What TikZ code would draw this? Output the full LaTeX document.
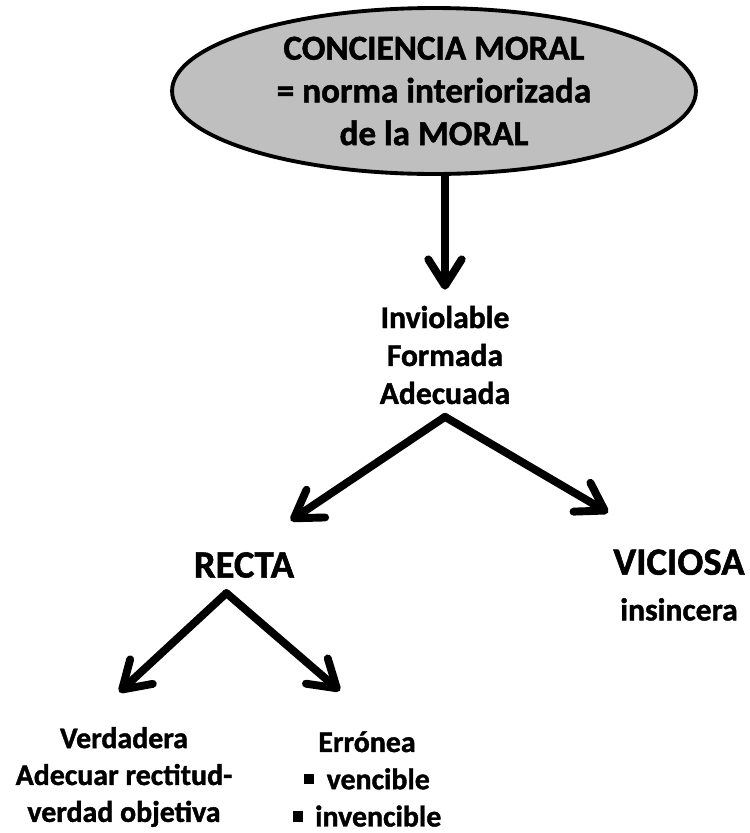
\documentclass[tikz,border=0pt]{standalone}
\usepackage{fontspec}
\setmainfont{Carlito}[BoldFeatures={FakeBold=1.3}]
\usepackage{tikz}
\usetikzlibrary{arrows.meta, shapes.geometric}

\newcommand{\sqbullet}{\raisebox{2.8pt}{\rule{5.8pt}{5.8pt}}\hspace{7pt}}

\begin{document}
\begin{tikzpicture}[x=0.02cm, y=-0.02cm,
    txt/.style={inner sep=0pt, align=center, font=\bfseries},
    arr/.style={line width=4.5pt, line cap=round, -{Straight Barb[length=15pt, width=19pt, round]}}]
\useasboundingbox (0,0) rectangle (750,833);

% Main concept
\node[txt, draw=black, line width=2.2pt, fill=black!25, ellipse, minimum width=10.48cm, minimum height=3.32cm,
      font=\bfseries\fontsize{20}{24.3}\selectfont] (title) at (434,91)
    {CONCIENCIA MORAL\\= norma interiorizada\\de la MORAL};

% Properties
\node[txt, font=\bfseries\fontsize{18}{21.6}\selectfont] (props) at (445,355)
    {Inviolable\\Formada\\Adecuada};

% Two kinds
\node[txt, font=\bfseries\fontsize{22}{26}\selectfont] (recta) at (244,565) {RECTA};
\node[txt, font=\bfseries\fontsize{22}{26}\selectfont] (viciosa) at (679,585)
    {VICIOSA\\{\fontsize{18}{22.8}\selectfont insincera}};

% Kinds of recta
\node[txt, font=\bfseries\fontsize{17}{21}\selectfont] (verdadera) at (124,777)
    {Verdadera\\Adecuar rectitud-\\verdad objetiva};
\node[txt, font=\bfseries\fontsize{17}{21.2}\selectfont] (erronea) at (367,779)
    {Err\'onea\\\sqbullet vencible\\\sqbullet invencible};

% Arrows
\draw[arr, shorten >=9pt] (title.south -| props.north) -- (props.north);
\draw[arr, shorten >=32pt] ([yshift=-7pt]props.south) -- (recta.north);
\draw[arr, shorten >=41pt] ([yshift=-7pt]props.south) -- ([xshift=-5pt]viciosa.north);
\draw[arr, shorten >=29pt] ([xshift=-10pt, yshift=-8.5pt]recta.south) -- (verdadera.130);
\draw[arr, shorten >=35pt] ([xshift=-10pt, yshift=-8.5pt]recta.south) -- (erronea.68);
\end{tikzpicture}
\end{document}
